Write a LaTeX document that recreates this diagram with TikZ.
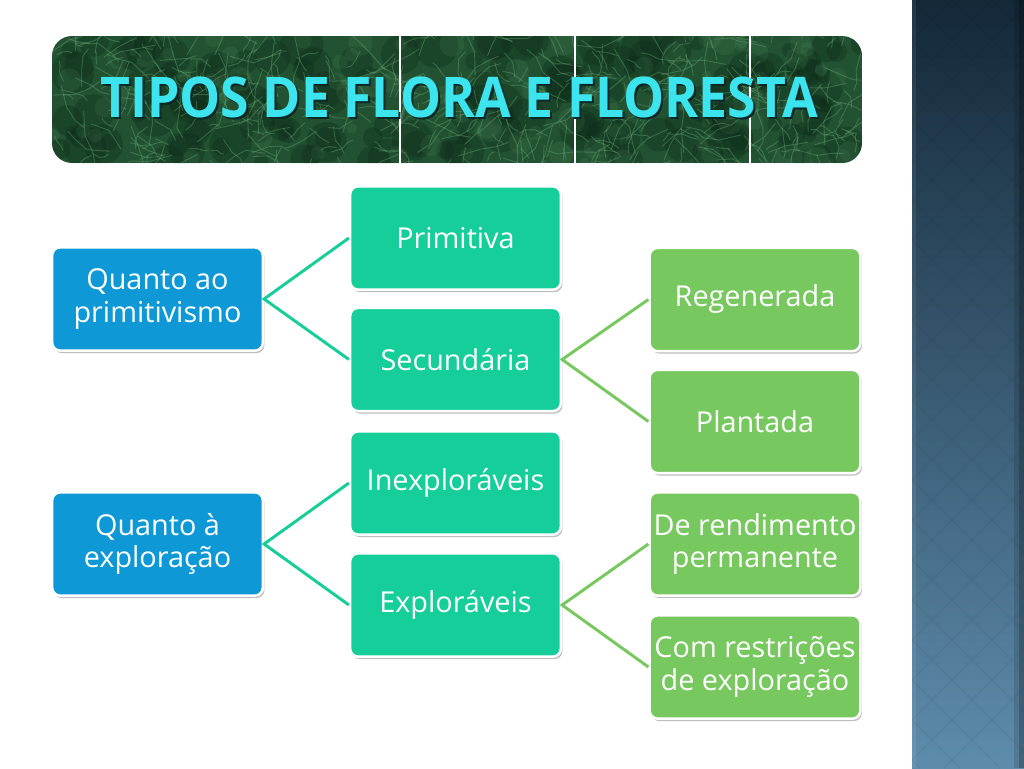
\documentclass[tikz,border=0pt]{standalone}
\usepackage{fontspec}
\usepackage{graphicx}
\setmainfont{Open Sans}
\usetikzlibrary{shadows}
\definecolor{bluebox}{RGB}{14,152,214}
\definecolor{tealbox}{RGB}{22,206,154}
\definecolor{greenbox}{RGB}{120,200,96}
\definecolor{bannerbg}{RGB}{34,82,50}
\definecolor{bannerlight}{RGB}{100,165,115}
\definecolor{bannerdark}{RGB}{12,42,22}
\definecolor{titlecyan}{RGB}{60,228,238}
\definecolor{titleshadow}{RGB}{10,40,40}
\definecolor{paneltop}{RGB}{20,40,56}
\definecolor{panelbot}{RGB}{94,140,172}
\newcommand{\titlestr}{\resizebox{538.5pt}{30.5pt}{\bfseries TIPOS DE FLORA E FLORESTA}}
\tikzset{
  box/.style={draw=white, line width=1.9pt, rounded corners=6pt,
    minimum width=158pt, minimum height=77.5pt, inner sep=2pt,
    align=center, text=white, font=\fontsize{21.6}{24.3}\selectfont,
    drop shadow={shadow xshift=1.2pt, shadow yshift=-1.8pt, fill=black, opacity=0.25}},
  bluenode/.style={box, fill=bluebox},
  tealnode/.style={box, fill=tealbox},
  greennode/.style={box, fill=greenbox},
  link/.style={line width=2.2pt},
  titletext/.style={inner sep=0pt, anchor=south west}
}
\begin{document}
\begin{tikzpicture}[x=0.75pt,y=-0.75pt]
\useasboundingbox (0,0) rectangle (1024,768);
\fill[white] (0,0) rectangle (1024,768);

% right panel
\shade[top color=paneltop, bottom color=panelbot] (912,0) rectangle (1024,768);
\begin{scope}
  \clip (912,0) rectangle (1024,768);
  \foreach \k in {-20,...,20}{
    \draw[black, opacity=0.035, line width=1.5pt] (912+\k*40,0) -- ++(768,768);
    \draw[black, opacity=0.035, line width=1.5pt] (912+\k*40,0) -- ++(-768,768);
  }
\end{scope}
\fill[white, opacity=0.07] (912,0) rectangle (916,768);
\fill[black, opacity=0.12] (1014,0) rectangle (1024,768);
\fill[black, opacity=0.18] (1019,0) rectangle (1024,768);

% banner
\begin{scope}
  \clip[rounded corners=15pt] (52,36) rectangle (862,163);
  \fill[bannerbg] (52,36) rectangle (862,163);
  \pgfmathsetseed{17}
  \foreach \i in {1,...,160}{
    \pgfmathsetmacro\xa{52+810*rnd}
    \pgfmathsetmacro\ya{36+127*rnd}
    \pgfmathsetmacro\rr{6+16*rnd}
    \fill[bannerdark, opacity=0.3] (\xa,\ya) circle[radius=\rr];
  }
  \foreach \i in {1,...,90}{
    \pgfmathsetmacro\xa{52+810*rnd}
    \pgfmathsetmacro\ya{36+127*rnd}
    \pgfmathsetmacro\rr{4+10*rnd}
    \fill[bannerlight, opacity=0.12] (\xa,\ya) circle[radius=\rr];
  }
  \foreach \i in {1,...,450}{
    \pgfmathsetmacro\xa{52+810*rnd}
    \pgfmathsetmacro\ya{36+127*rnd}
    \pgfmathsetmacro\ang{360*rnd}
    \pgfmathsetmacro\ln{5+20*rnd}
    \pgfmathsetmacro\angb{\ang+80*rnd-40}
    \pgfmathsetmacro\angc{\angb+80*rnd-40}
    \draw[bannerlight, opacity=0.4, line width=0.7pt, line join=round]
      (\xa,\ya) -- ++(\ang:\ln) -- ++(\angb:\ln*0.7) -- ++(\angc:\ln*0.5);
  }
\end{scope}
\foreach \xx in {400,575,750}{
  \draw[white, line width=0.8pt] (\xx,36) -- (\xx,163);
}

% title (with its shadow in the same node)
\node[titletext, text=titlecyan] (title) at (100,120)
  {\makebox[0pt][l]{\hspace{1.5pt}\raisebox{-1.5pt}{\color{titleshadow}\titlestr}}\titlestr};

% nodes
\node[bluenode] (q1) at (157.5,299) {Quanto ao\\primitivismo};
\node[bluenode] (q2) at (157.5,544) {Quanto à\\exploração};
\node[tealnode] (prim) at (455.5,238) {Primitiva};
\node[tealnode] (sec) at (455.5,359.5) {Secundária};
\node[tealnode] (inex) at (455.5,483) {Inexploráveis};
\node[tealnode] (expl) at (455.5,605) {Exploráveis};
\node[greennode] (reg) at (755,299.5) {Regenerada};
\node[greennode] (plan) at (755,421.5) {Plantada};
\node[greennode] (rend) at (755,544) {De rendimento\\permanente};
\node[greennode] (rest) at (755,667) {Com restrições\\de exploração};

% connectors
\draw[link, tealbox] (prim.west) -- (q1.east) -- (sec.west);
\draw[link, tealbox] (inex.west) -- (q2.east) -- (expl.west);
\draw[link, greenbox] (reg.west) -- (sec.east) -- (plan.west);
\draw[link, greenbox] (rend.west) -- (expl.east) -- (rest.west);
\end{tikzpicture}
\end{document}
